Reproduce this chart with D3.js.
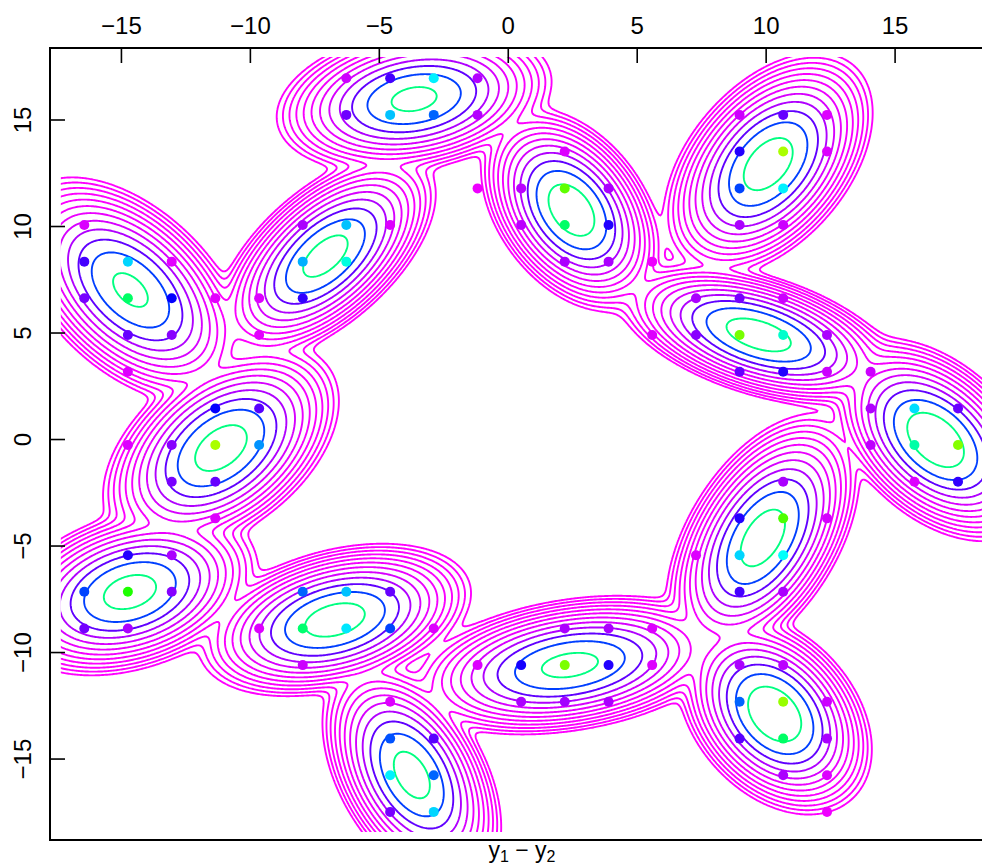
<!DOCTYPE html>
<html><head><meta charset="utf-8">
<script src="https://cdn.jsdelivr.net/npm/d3@7"></script>
<style>body{margin:0;background:#fff} svg{display:block;font-family:"Liberation Sans",Arial,sans-serif}</style>
</head><body>
<svg id="chart" width="982" height="868"></svg>
<script>
// ---- mixture components ----
const compX   = [-3.65, 2.45, 10.08, -7.09, -14.65, -11.14, 9.71, 16.57, 9.87, -14.67, -6.72, 2.39, -3.74, 10.33];
const compY   = [15.98, 10.77, 12.93, 8.61, 7.02, -0.40, 4.91, -0.02, -4.62, -7.16, -8.47, -10.59, -15.75, -12.89];
const compSX  = [1.346, 0.868, 1.008, 1.073, 1.14, 1.142, 1.353, 1.009, 0.933, 1.24, 1.318, 1.553, 0.869, 0.928];
const compSY  = [0.871, 1.178, 1.30, 1.211, 1.338, 1.224, 0.838, 1.172, 1.444, 0.98, 0.894, 0.82, 1.359, 1.161];
const compRho = [0.24, -0.4, 0.46, 0.6, -0.5, 0.45, -0.5, -0.45, 0.5, 0.3, 0.35, 0.3, -0.45, -0.35];
const compPeak= [0.84, 1.15, 1.06, 0.94, 0.81, 1.0, 1.04, 1.23, 1.04, 0.95, 1.0, 0.87, 0.94, 1.26];

// contour levels (density, relative)
const contourLevels = [0.68, 0.34, 0.17, 0.085, 0.0425, 0.02125, 0.010625, 0.0053125,
  0.00265625, 0.001328125, 0.000664, 0.000332];

// ---- points ----
const ptX = [
 -6.28,-4.58,-2.89,-1.19,-6.28,-4.58,-2.89,-1.19,
 2.19,-1.19,0.50,2.19,3.89,0.50,2.19,3.89,2.19,3.89,5.58,
 8.97,10.66,12.36,8.97,10.66,12.36,8.97,10.66,8.97,10.66,
 -7.97,-6.28,-4.58,-7.97,-6.28,-7.97,-9.66,-9.66,-11.36,
 -16.44,-16.44,-14.75,-13.05,-16.44,-14.75,-13.05,-14.75,-13.05,-14.75,
 -11.36,-9.66,-13.05,-11.36,-9.66,-13.05,-11.36,-11.36,-14.75,
 7.28,8.97,10.66,7.28,8.97,10.66,12.36,8.97,10.66,12.36,5.58,14.05,
 14.05,15.75,17.44,14.05,15.75,17.44,15.75,17.44,
 10.66,8.97,10.66,12.36,7.28,8.97,10.66,8.97,10.66,
 -14.75,-13.05,-16.44,-14.75,-13.05,-16.44,-14.75,
 -7.97,-6.28,-4.58,-9.66,-7.97,-6.28,-4.58,-2.89,-7.97,
 2.19,3.89,5.58,-1.19,0.50,2.19,3.89,5.58,0.50,2.19,3.89,
 -4.58,-4.58,-2.89,-4.58,-2.89,-4.58,-2.89,
 8.97,10.66,8.97,10.66,12.36,8.97,10.66,12.36,10.66,12.36,12.36];
const ptY = [
 16.96,16.96,16.96,16.96,15.24,15.24,15.24,15.24,
 13.52,11.79,11.79,11.79,11.79,10.07,10.07,10.07,8.35,8.35,8.35,
 15.24,15.24,15.24,13.52,13.52,13.52,11.79,11.79,10.07,10.07,
 10.07,10.07,10.07,8.35,8.35,6.63,6.63,4.91,6.63,
 10.07,8.35,8.35,8.35,6.63,6.63,6.63,4.91,4.91,3.18,
 1.46,1.46,-0.26,-0.26,-0.26,-1.98,-1.98,-3.70,-0.26,
 6.63,6.63,6.63,4.91,4.91,4.91,4.91,3.18,3.18,3.18,4.91,3.18,
 1.46,1.46,1.46,-0.26,-0.26,-0.26,-1.98,-1.98,
 -1.98,-3.70,-3.70,-3.70,-5.43,-5.43,-5.43,-7.15,-7.15,
 -5.43,-5.43,-7.15,-7.15,-7.15,-8.87,-8.87,
 -7.15,-7.15,-7.15,-8.87,-8.87,-8.87,-8.87,-8.87,-10.59,
 -8.87,-8.87,-8.87,-10.59,-10.59,-10.59,-10.59,-10.59,-12.31,-12.31,-12.31,
 -12.31,-14.04,-14.04,-15.76,-15.76,-17.48,-17.48,
 -10.59,-10.59,-12.31,-12.31,-12.31,-14.04,-14.04,-14.04,-15.76,-15.76,-17.48];
const ptZ = [
 0.055,0.2,0.53,0.08,0.155,0.48,0.38,0.08,
 0.036,0.018,0.073,0.92,0.09,0.073,0.71,0.236,0.09,0.09,0.018,
 0.055,0.164,0.036,0.236,1.0,0.036,0.345,0.53,0.09,0.055,
 0.09,0.48,0.036,0.46,0.58,0.22,0.036,0.03,0.03,
 0.04,0.2,0.5,0.03,0.145,0.71,0.27,0.164,0.127,0.036,
 0.27,0.18,0.127,1.0,0.43,0.145,0.164,0.036,0.036,
 0.09,0.145,0.055,0.127,0.945,0.6,0.09,0.164,0.236,0.055,0.036,0.055,
 0.085,0.51,0.16,0.07,0.64,0.96,0.036,0.22,
 0.09,0.236,0.9,0.045,0.036,0.5,0.55,0.2,0.09,
 0.236,0.09,0.345,0.85,0.13,0.15,0.09,
 0.38,0.48,0.164,0.036,0.7,0.52,0.345,0.036,0.055,
 0.09,0.09,0.036,0.036,0.25,0.95,0.236,0.036,0.09,0.1,0.09,
 0.036,0.36,0.18,0.53,0.38,0.145,0.5,
 0.09,0.073,0.38,0.98,0.055,0.18,0.71,0.09,0.09,0.036,0.018];

const xTicks = [-15,-10,-5,0,5,10,15];
const yTicks = [-15,-10,-5,0,5,10,15];
const xLimits = [-17.77, 18.68], yLimits = [-18.8, 18.38];
const gridX = [-17.35, 20.0], gridY = [-18.43, 17.96];

// ---- layout ----
const svg = d3.select("#chart");
const xS = d3.scaleLinear().domain(xLimits).range([50, 990]);
const yS = d3.scaleLinear().domain(yLimits).range([840, 48]);
const color = v => d3.hsl(300 - 220 * Math.min(1, v), 1, 0.5).formatHex();

// ---- density grid ----
const step = 0.05, gx0 = -19.5, gy0 = -20.5;
const nx = 801, ny = 801;
const values = new Float64Array(nx * ny);
const comps = compX.map((m, k) => ({mx: m, my: compY[k], sx: compSX[k], sy: compSY[k], r: compRho[k], h: compPeak[k]}));
for (let j = 0; j < ny; j++) {
  const y = gy0 + j * step;
  for (let i = 0; i < nx; i++) {
    const x = gx0 + i * step;
    let s = 0;
    for (const c of comps) {
      const u = (x - c.mx) / c.sx, v = (y - c.my) / c.sy;
      const q = (u * u + v * v - 2 * c.r * u * v) / (1 - c.r * c.r);
      if (q < 60) s += c.h * Math.exp(-0.5 * q);
    }
    values[j * nx + i] = s;
  }
}
const contours = d3.contours().size([nx, ny]).thresholds(contourLevels)(values);
const proj = d3.geoTransform({point: function(px, py) {
  this.stream.point(xS(gx0 + (px - 0.5) * step), yS(gy0 + (py - 0.5) * step));
}});
const path = d3.geoPath(proj);

svg.append("clipPath").attr("id", "gclip").append("rect")
  .attr("x", xS(gridX[0])).attr("y", yS(gridY[1]))
  .attr("width", xS(gridX[1]) - xS(gridX[0])).attr("height", yS(gridY[0]) - yS(gridY[1]));

svg.append("g").attr("clip-path", "url(#gclip)")
  .selectAll("path").data(contours).join("path")
  .attr("d", path).attr("fill", "none")
  .attr("stroke", d => color(d.value)).attr("stroke-width", 1.9);

// ---- points ----
svg.append("g").selectAll("circle").data(ptX).join("circle")
  .attr("cx", (d, i) => xS(ptX[i])).attr("cy", (d, i) => yS(ptY[i]))
  .attr("r", 5).attr("fill", (d, i) => color(ptZ[i]));

// ---- frame & axes ----
svg.append("rect").attr("x", xS(xLimits[0])).attr("y", yS(yLimits[1]))
  .attr("width", xS(xLimits[1]) - xS(xLimits[0])).attr("height", yS(yLimits[0]) - yS(yLimits[1]))
  .attr("fill", "none").attr("stroke", "#000").attr("stroke-width", 2);

const topAxis = svg.append("g");
topAxis.selectAll("line").data(xTicks).join("line")
  .attr("x1", d => xS(d)).attr("x2", d => xS(d)).attr("y1", 48).attr("y2", 63)
  .attr("stroke", "#000").attr("stroke-width", 1.6);
topAxis.selectAll("text").data(xTicks).join("text")
  .attr("x", d => xS(d)).attr("y", 34).attr("text-anchor", "middle")
  .attr("font-size", 24).text(d => d < 0 ? "\u2212" + Math.abs(d) : d);

const leftAxis = svg.append("g");
leftAxis.selectAll("line").data(yTicks).join("line")
  .attr("y1", d => yS(d)).attr("y2", d => yS(d)).attr("x1", 50).attr("x2", 65)
  .attr("stroke", "#000").attr("stroke-width", 1.6);
leftAxis.selectAll("text").data(yTicks).join("text")
  .attr("transform", d => `translate(31,${yS(d)}) rotate(-90)`).attr("text-anchor", "middle")
  .attr("font-size", 24).text(d => d < 0 ? "\u2212" + Math.abs(d) : d);

const xl = svg.append("text").attr("x", 522).attr("y", 858).attr("text-anchor", "middle").attr("font-size", 23);
xl.append("tspan").text("y");
xl.append("tspan").attr("font-size", 16).attr("dy", 4).text("1");
xl.append("tspan").attr("dy", -4).text(" \u2212 y");
xl.append("tspan").attr("font-size", 16).attr("dy", 4).text("2");
</script>
</body></html>
